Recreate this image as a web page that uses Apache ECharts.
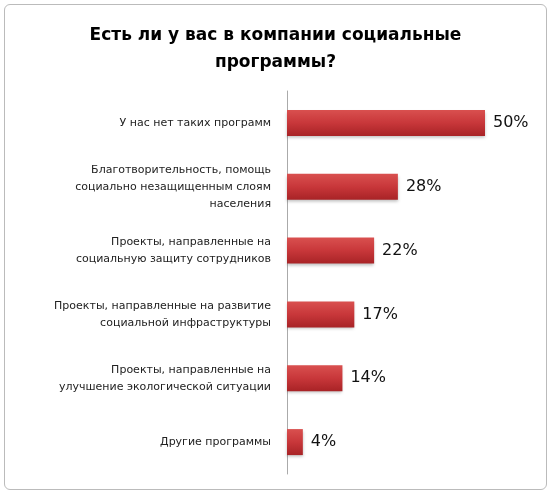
<!DOCTYPE html><html><head><meta charset="utf-8">
<script src="https://cdn.jsdelivr.net/npm/echarts@6/dist/echarts.min.js"></script>
<style>body{margin:0;background:#fff}#c{position:absolute;left:4px;top:4px;width:543px;height:486px;border:1px solid #bbb;border-radius:6px;box-sizing:border-box}</style>
</head><body><div id="c"></div><script>
const categories=['У нас нет таких программ','Благотворительность, помощь\nсоциально незащищенным слоям\nнаселения','Проекты, направленные на\nсоциальную защиту сотрудников','Проекты, направленные на развитие\nсоциальной инфраструктуры','Проекты, направленные на\nулучшение экологической ситуации','Другие программы'];
const values=[50,28,22,17,14,4];
const ch=echarts.init(document.getElementById('c'));
ch.setOption({
title:{text:'Есть ли у вас в компании социальные\nпрограммы?',left:'center',top:12,textStyle:{fontFamily:'DejaVu Sans',fontSize:17,fontWeight:'bold',color:'#000',lineHeight:27}},
grid:{left:282,right:61,top:86,bottom:15},
xAxis:{type:'value',min:0,max:50,show:false},
yAxis:{type:'category',inverse:true,data:categories,axisTick:{show:false},axisLine:{lineStyle:{color:'#aaa'}},
axisLabel:{fontFamily:'DejaVu Sans',fontSize:11,color:'#222',lineHeight:17,margin:16,align:'right'}},
series:[{type:'bar',data:values,barWidth:26,
itemStyle:{color:new echarts.graphic.LinearGradient(0,0,0,1,[{offset:0,color:'#d9504f'},{offset:0.5,color:'#c8373a'},{offset:1,color:'#a82326'}]),shadowColor:'rgba(0,0,0,0.25)',shadowBlur:3,shadowOffsetY:2},
label:{show:true,position:'right',formatter:'{c}%',fontFamily:'DejaVu Sans',fontSize:16,color:'#111',distance:8}}]
});
</script></body></html>
